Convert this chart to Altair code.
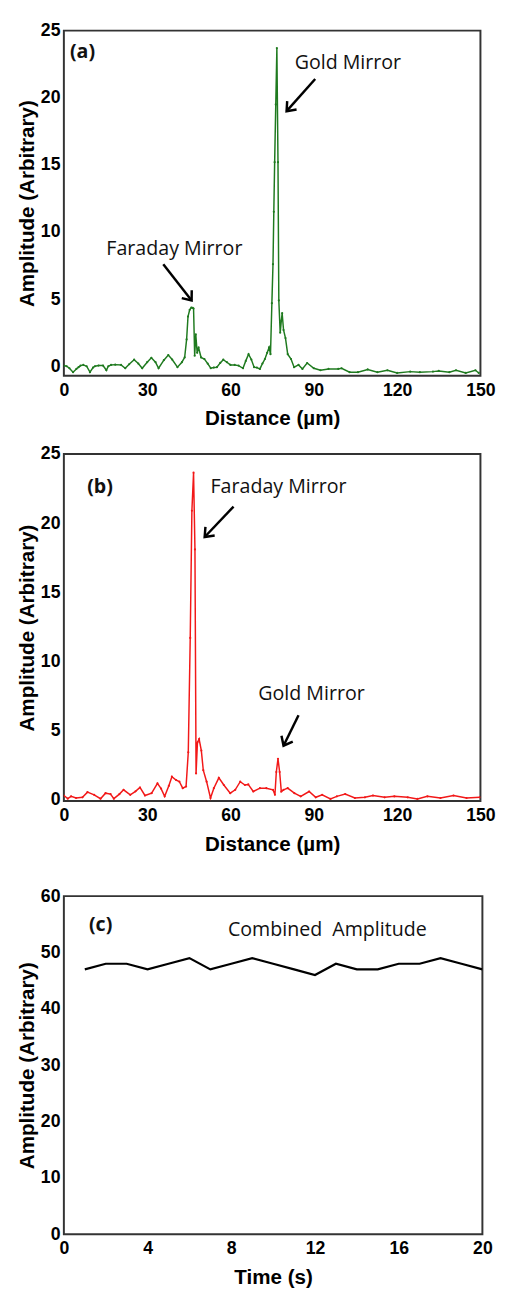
import altair as alt
import pandas as pd

# ---------------- data ----------------
# Panel (a): green trace, distance (um) vs amplitude
A_X = [0, 1, 2, 3.3, 4.5, 5.3, 6, 7, 8.2, 9.4, 10.5, 11.2, 12.5, 14.1, 15.3, 16, 17, 18.5,
       20.6, 22.1, 23.5, 25.3, 26.8, 28.2, 30, 31.5, 33, 34.1, 36, 37.6, 39, 40.9, 42.5,
       43.5, 44.2, 44.7, 45.3, 45.9, 46.4, 46.7, 47.1, 47.5, 48, 48.5, 49.4, 50.6, 51.8,
       52.9, 54, 55.1, 56.3, 57.4, 58.7, 60, 61.5, 62.9, 64.5, 65.5, 66.5, 67.5, 68.5,
       69.5, 70.6, 71.5, 72.4, 73.2, 73.9, 74.4, 74.9, 75.3, 75.6, 75.9, 76.3, 76.7, 77.1,
       77.4, 77.9, 78.3, 78.6, 79.1, 79.8, 80.6, 81.8, 82.9, 84.5, 85.9, 87.6, 90, 92.4,
       95.3, 98.8, 100, 102.9, 105.9, 109.4, 112.9, 116.5, 120, 124.7, 128.2, 132.9, 135,
       138.8, 141.2, 144.7, 148.2, 149.4]
A_Y = [0.05, 0.0, -0.15, -0.44, -0.2, -0.07, 0.05, 0.1, 0.0, -0.44, -0.1, 0.0, 0.05, 0.05,
       -0.3, 0.0, 0.1, 0.12, 0.1, -0.15, 0.15, 0.49, 0.2, -0.15, 0.3, 0.63, 0.3, -0.15, 0.45,
       0.83, 0.5, -0.07, 0.3, 0.66, 2.0, 3.7, 4.2, 4.37, 4.35, 4.3, 0.78, 2.37, 1.0, 1.4,
       0.66, 0.54, 0.2, -0.15, -0.1, -0.07, 0.25, 0.49, 0.3, 0.1, 0.1, 0.05, -0.15, 0.4,
       0.9, 0.5, -0.07, -0.1, -0.2, 0.2, 0.54, 1.0, 1.4, 0.9, 4.7, 7.6, 11.5, 15.2, 19.5,
       23.7, 15.2, 4.9, 2.5, 3.4, 3.95, 2.7, 2.1, 0.9, 0.54, -0.07, 0.1, -0.2, 0.24, -0.15,
       -0.3, -0.2, -0.2, -0.15, -0.44, -0.44, -0.24, -0.44, -0.3, -0.5, -0.4, -0.44, -0.4,
       -0.35, -0.44, -0.3, -0.5, -0.3, -0.5]

# Panel (b): red trace
B_X = [0, 1.4, 2.6, 4.4, 6.7, 8.5, 10.9, 13.2, 15, 16.8, 18, 20, 21.5, 23.9, 25.8, 27.4,
       29.2, 31.6, 33.7, 35, 36.3, 37.8, 38.9, 40.4, 41.6, 42.8, 44, 44.8, 45.5, 46.1, 46.7,
       47.2, 47.6, 48.1, 48.7, 49.5, 50.2, 51.4, 52.8, 54, 55.8, 57.6, 59.9, 61.7, 63.5,
       65.2, 66.4, 68.2, 70.6, 72.9, 75.3, 76, 76.5, 77.1, 77.7, 78.3, 79.1, 80.6, 83,
       85.3, 88.3, 90.7, 93, 96, 98.3, 101.3, 104.8, 108.4, 111.3, 115.5, 119, 123.8, 127.3,
       130.9, 135.6, 140.3, 145, 149.8]
B_Y = [0.3, 0.07, 0.24, 0.12, 0.17, 0.54, 0.35, 0.07, 0.47, 0.4, 0.07, 0.4, 0.71, 0.35, 0.6,
       0.88, 0.3, 0.47, 1.18, 0.8, 0.24, 1.0, 1.66, 1.42, 1.3, 0.83, 0.95, 3.43, 11.7, 20.9,
       23.65, 18.1, 1.9, 4.14, 4.38, 3.55, 2.13, 1.3, 0.12, 0.83, 1.58, 1.06, 0.47, 0.71,
       1.3, 1.06, 1.1, 0.59, 0.83, 0.83, 0.71, 0.35, 2.0, 2.96, 2.0, 0.59, 0.71, 0.83, 0.47,
       0.24, 0.59, 0.17, 0.35, 0.05, 0.24, 0.4, 0.12, 0.17, 0.3, 0.17, 0.24, 0.17, 0.05,
       0.24, 0.12, 0.3, 0.12, 0.17]

# Panel (c): combined amplitude vs time
C_T = [1, 2, 3, 4, 5, 6, 7, 8, 9, 10, 11, 12, 13, 14, 15, 16, 17, 18, 19, 20]
C_AMP = [47, 48, 48, 47, 48, 49, 47, 48, 49, 48, 47, 46, 48, 47, 47, 48, 48, 49, 48, 47]

DIST_TICKS = [0, 30, 60, 90, 120, 150]
AMP_TICKS_AB = [0, 5, 10, 15, 20, 25]
TIME_TICKS = [0, 4, 8, 12, 16, 20]
AMP_TICKS_C = [0, 10, 20, 30, 40, 50, 60]

# ---------------- helpers ----------------
ARROW_HEAD = "M-1,-0.8L0,0L-1,0.8"
ANN_FONT = "Open Sans"


def panel(xs, ys, color, xdom, ydom, xticks, yticks, xtitle, w, h,
          labels, texts, arrows, line_width=1.5, points=True):
    def xenc(field):
        return alt.X(f"{field}:Q", scale=alt.Scale(domain=xdom, nice=False, zero=False),
                     axis=alt.Axis(values=xticks, title=xtitle, format="d"))

    def yenc(field):
        return alt.Y(f"{field}:Q", scale=alt.Scale(domain=ydom, nice=False, zero=False),
                     axis=alt.Axis(values=yticks, title="Amplitude (Arbitrary)", format="d"))

    df = pd.DataFrame({"x": xs, "y": ys})
    mark_kw = dict(color=color, strokeWidth=line_width, clip=True)
    if points:
        mark_kw["point"] = alt.OverlayMarkDef(size=5, color=color, filled=True)
    line = alt.Chart(df).mark_line(**mark_kw).encode(x=xenc("x"), y=yenc("y"))

    layers = [line]
    if arrows:
        adf = pd.DataFrame(arrows, columns=["x", "y", "x2", "y2", "ang"])
        shaft = alt.Chart(adf).mark_rule(color="black", strokeWidth=2.5).encode(
            x=xenc("x"), y=yenc("y"), x2="x2:Q", y2="y2:Q")
        head = alt.Chart(adf).mark_point(
            shape=ARROW_HEAD, filled=False, stroke="black", strokeWidth=2.5,
            size=260, opacity=1).encode(
            x=xenc("x2"), y=yenc("y2"), angle=alt.Angle("ang:Q", scale=None))
        layers += [shaft, head]
    if texts:
        tdf = pd.DataFrame(texts, columns=["x", "y", "label"])
        layers.append(alt.Chart(tdf).mark_text(
            align="left", baseline="middle", font=ANN_FONT, fontSize=20,
            color="#111111").encode(x=xenc("x"), y=yenc("y"), text="label:N"))
    if labels:
        ldf = pd.DataFrame(labels, columns=["x", "y", "label"])
        layers.append(alt.Chart(ldf).mark_text(
            align="left", baseline="middle", font=ANN_FONT, fontSize=20,
            fontWeight="bold", color="#111111").encode(x=xenc("x"), y=yenc("y"), text="label:N"))
    return alt.layer(*layers).properties(width=w, height=h)


pa = panel(A_X, A_Y, "#1f7a1f", [0, 150], [-0.7, 25], DIST_TICKS, AMP_TICKS_AB,
           "Distance (µm)", 425, 352,
           labels=[[2.2, 23.4, "(a)"]],
           texts=[[83.1, 22.6, "Gold Mirror"], [15.3, 8.7, "Faraday Mirror"]],
           arrows=[[90.5, 21.4, 80.2, 19.0, 132], [35.8, 7.6, 46.0, 4.9, 52]])

pb = panel(B_X, B_Y, "#f21818", [0, 150], [-0.1, 25], DIST_TICKS, AMP_TICKS_AB,
           "Distance (µm)", 425, 354,
           labels=[[8.4, 22.6, "(b)"]],
           texts=[[52.8, 22.6, "Faraday Mirror"], [70.0, 7.6, "Gold Mirror"]],
           arrows=[[61.1, 21.2, 50.7, 19.0, 133], [84.5, 6.1, 79.1, 3.9, 117]])

pc = panel(C_T, C_AMP, "black", [0, 20], [0, 60], TIME_TICKS, AMP_TICKS_C,
           "Time (s)", 427, 345,
           labels=[[1.2, 54.9, "(c)"]],
           texts=[[7.84, 53.9, "Combined\u00a0 Amplitude"]],
           arrows=None, line_width=2.2, points=False)

top = alt.vconcat(pa, pb, spacing=15)
chart = alt.vconcat(top, pc, spacing=32).properties(
    padding={"left": 7, "top": 0, "right": 5, "bottom": 0},
    background="white",
).configure_view(
    stroke="#333333", strokeWidth=2
).configure_axis(
    labelFont="Liberation Sans", labelFontSize=18, labelFontWeight="bold",
    labelColor="black", titleFont="Liberation Sans", titleFontSize=21,
    titleFontWeight="bold", titleColor="black", ticks=False, domain=False,
    grid=False, labelPadding=6, labelFlush=False, labelOverlap=False
).configure_axisY(
    titlePadding=3, labelPadding=4
).configure_axisX(
    titlePadding=9
)

chart.save("out.html", embed_options={"renderer": "svg", "actions": False})
